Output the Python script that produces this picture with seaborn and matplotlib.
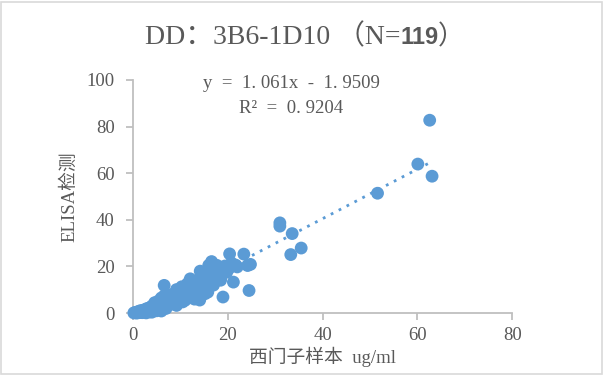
import numpy as np
import pandas as pd
import matplotlib
matplotlib.use("Agg")
import matplotlib.pyplot as plt
import seaborn as sns

# 西门子样本 (x) vs ELISA检测 (y)
siemens = [62.6, 60.1, 63.1, 51.6, 31.0, 31.0, 33.6, 33.3, 35.5, 20.4, 23.4, 24.8, 24.2, 21.7,
           21.2, 24.5, 19.0, 16.6, 15.8, 18.5, 14.2, 6.6, 12.1, 14.1, 9.2, 6.0, 2.8,
           0.2, 0.5, 0.8, 1.0, 1.3, 1.5, 1.8, 2.0, 2.2, 2.5, 2.7, 3.0, 3.2, 3.4, 3.6, 3.8,
           4.0, 4.2, 4.4, 4.6, 4.8, 5.0, 5.2, 5.4, 5.6, 5.8, 6.0, 6.2, 6.4, 6.6, 6.8, 7.0,
           7.2, 7.4, 7.6, 7.8, 8.0, 8.3, 8.6, 8.9, 9.2, 9.5, 9.8, 10.0, 10.3, 10.6, 10.9,
           11.2, 11.5, 11.8, 12.0, 12.3, 12.6, 12.9, 13.2, 13.5, 13.8, 14.0, 14.3, 14.6,
           14.9, 15.2, 15.5, 15.8, 16.1, 16.4, 16.8, 17.1, 17.4, 17.7, 18.0, 18.3, 18.6,
           19.0, 19.4, 19.8, 20.2, 11.0, 9.0, 8.0, 13.0, 10.5, 15.0, 17.0, 4.0, 5.0, 2.0,
           7.0, 12.5, 16.0, 20.8, 22.0]
elisa = [82.7, 63.9, 58.7, 51.4, 38.7, 37.3, 34.1, 25.1, 27.9, 25.4, 25.3, 20.9, 20.4, 20.6,
         13.3, 9.7, 6.9, 22.1, 9.0, 14.1, 18.0, 11.9, 14.7, 5.6, 3.3, 0.9, 0.1,
         0.1, 0.3, 0.0, 0.6, 0.2, 1.0, 0.4, 1.2, 0.7, 1.5, 0.9, 2.0, 1.1, 0.5, 2.4, 1.6,
         3.0, 2.2, 1.3, 4.5, 3.1, 2.0, 3.8, 5.2, 2.9, 4.3, 6.5, 3.5, 5.0, 7.4, 4.2, 6.0,
         3.0, 5.5, 7.8, 4.6, 6.8, 5.0, 8.2, 6.2, 10.1, 7.1, 5.6, 9.0, 11.3, 7.9, 10.4,
         6.4, 12.6, 9.3, 8.0, 11.0, 13.4, 7.3, 10.5, 12.0, 9.0, 14.3, 11.6, 16.8,
         13.0, 8.3, 15.6, 12.3, 17.2, 14.0, 19.2, 16.0, 18.3, 20.5, 17.0, 19.5, 15.5,
         18.5, 20.2, 17.6, 19.0, 5.5, 4.5, 3.8, 6.0, 4.8, 10.5, 12.0, 0.4, 1.0, 0.2,
         2.0, 9.5, 20.5, 21.5, 19.8]

slope, intercept = 1.061, -1.9509
r2 = 0.9204

df = pd.DataFrame({"x": siemens, "y": elisa})
line_x = np.array([min(siemens), max(siemens)])
line_df = pd.DataFrame({"x": line_x, "y": slope * line_x + intercept})

sns.set_style("white")
plt.rcParams["font.family"] = ["Liberation Serif", "Noto Sans CJK SC", "DejaVu Sans"]

blue = "#5B9BD5"
grey = "#595959"

fig = plt.figure(figsize=(6.04, 3.75), dpi=100)
ax = fig.add_axes([0.220, 0.165, 0.628, 0.622])

sns.scatterplot(data=df, x="x", y="y", ax=ax, color=blue, s=85, edgecolor="none",
                alpha=1, zorder=3, clip_on=False)
sns.lineplot(data=line_df, x="x", y="y", ax=ax, color=blue, linewidth=2,
             linestyle=(0, (1, 2.2)), zorder=2)

ax.set_xlim(0, 80)
ax.set_ylim(0, 100)
ax.set_xticks([0, 20, 40, 60, 80])
ax.set_yticks([0, 20, 40, 60, 80, 100])
for s in ["top", "right"]:
    ax.spines[s].set_visible(False)
for s in ["left", "bottom"]:
    ax.spines[s].set_color("#BFBFBF")
    ax.spines[s].set_linewidth(1.3)
ax.tick_params(axis="both", colors="#BFBFBF", labelcolor=grey, labelsize=13.5,
               length=5, width=1.3, direction="out", left=True, bottom=True)
ax.tick_params(axis="x", pad=5)
ax.tick_params(axis="y", pad=8)

ax.set_xlabel("西门子样本  ug/ml", fontsize=13.5, color=grey, labelpad=2)
ax.set_ylabel("ELISA检测", fontsize=13.5, color=grey, labelpad=6)

ax.text(0.417, 0.983, "y  =  1. 061x  -  1. 9509", transform=ax.transAxes, ha="center",
        va="center", fontsize=13.5, color=grey)
ax.text(0.417, 0.878, "R²  =  0. 9204", transform=ax.transAxes, ha="center",
        va="center", fontsize=13.5, color=grey)

fig.text(400 / 604, 0.901, "DD：3B6-1D10 （N=", fontsize=20, color=grey, ha="right", va="center")
fig.text(401 / 604, 0.901, "119", fontsize=17, color=grey, ha="left", va="center",
         family=["Liberation Sans", "DejaVu Sans"], fontweight="bold")
fig.text(438 / 604, 0.901, "）", fontsize=19, color=grey, ha="left", va="center")

fig.patches.append(plt.Rectangle((0.002, 0.003), 0.995, 0.993, transform=fig.transFigure,
                                 fill=False, edgecolor="#D9D9D9", linewidth=1.2))

fig.savefig("out.png", dpi=100, facecolor="white")
